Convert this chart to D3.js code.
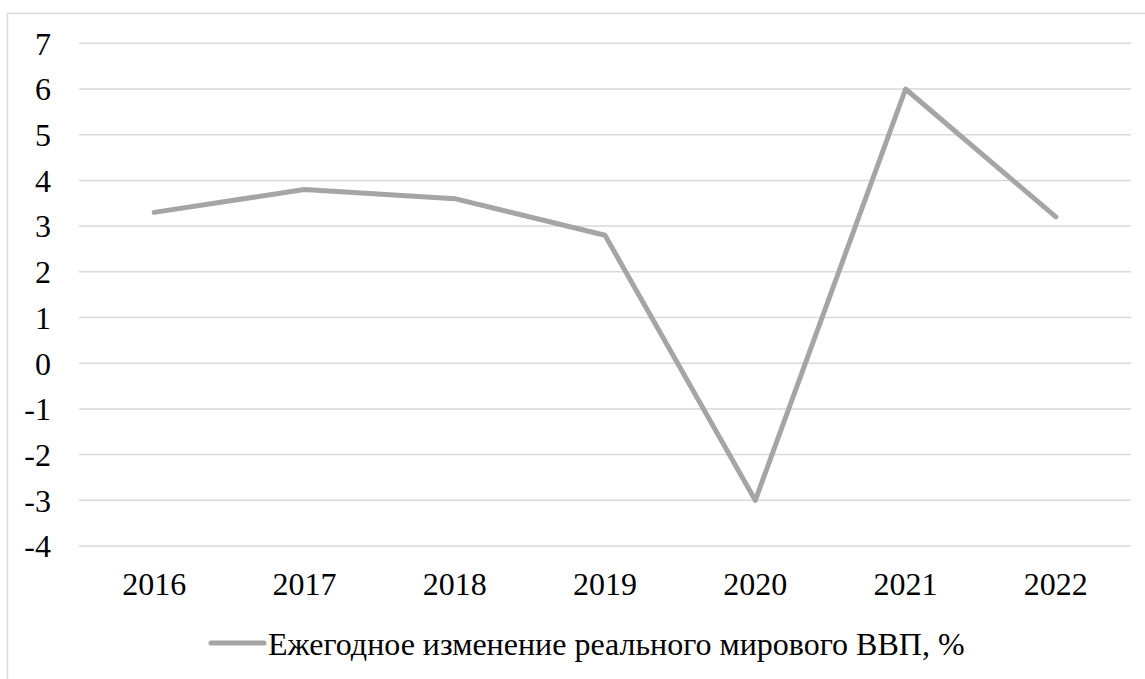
<!DOCTYPE html>
<html><head><meta charset="utf-8">
<script src="https://cdn.jsdelivr.net/npm/d3@7"></script>
<style>html,body{margin:0;padding:0;background:#fff;overflow:hidden}</style>
</head><body>
<svg id="c" width="1145" height="679"></svg>
<script>
const years = ["2016","2017","2018","2019","2020","2021","2022"];
const growth = [3.3, 3.8, 3.6, 2.8, -3.0, 6.0, 3.2];
const yTicks = [-4,-3,-2,-1,0,1,2,3,4,5,6,7];
const seriesName = "Ежегодное изменение реального мирового ВВП, %";

(function(){
const svg = d3.select("#c");
const font = '"Liberation Serif"';
const fs = "32px";
const pL = 79, pR = 1131, pT = 43.3, pB = 546;

svg.append("rect").attr("x",7.5).attr("y",13.5).attr("width",1150).attr("height",700)
  .attr("fill","#fff").attr("stroke","#d9d9d9").attr("stroke-width",1.5);

const x = d3.scaleBand().domain(years).range([pL,pR]);
const y = d3.scaleLinear().domain([-4,7]).range([pB,pT]);

svg.append("g").selectAll("line").data(yTicks).enter().append("line")
  .attr("x1",pL).attr("x2",pR)
  .attr("y1",d=>y(d)).attr("y2",d=>y(d))
  .attr("stroke","#d9d9d9").attr("stroke-width",1.5);

const yAxis = d3.axisLeft(y).tickValues(yTicks).tickSize(0).tickPadding(0).tickFormat(d3.format("d"));
const ya = svg.append("g").attr("transform","translate(51,0)").call(yAxis);
ya.select(".domain").remove();
ya.attr("font-family",null).attr("font-size",null);
ya.selectAll("text").style("font-family",font).style("font-size",fs).attr("fill","#000").attr("dy","0.34em")
  .text(d=>d<0? "-"+Math.abs(d) : d);

const xAxis = d3.axisBottom(x).tickSize(0).tickPadding(0);
const xa = svg.append("g").attr("transform","translate(0,573)").call(xAxis);
xa.select(".domain").remove();
xa.attr("font-family",null).attr("font-size",null);
xa.selectAll("text").style("font-family",font).style("font-size",fs).attr("fill","#000").attr("dy","0.69em");

const line = d3.line().x((d,i)=>x(years[i])+x.bandwidth()/2).y(d=>y(d));
svg.append("path").datum(growth).attr("d",line).attr("fill","none")
  .attr("stroke","#a5a5a5").attr("stroke-width",5).attr("stroke-linejoin","round").attr("stroke-linecap","round");

svg.append("line").attr("x1",211).attr("x2",264).attr("y1",643).attr("y2",643)
  .attr("stroke","#a5a5a5").attr("stroke-width",5).attr("stroke-linecap","round");
svg.append("text").attr("x",268).attr("y",655).style("font-family",font).style("font-size",fs).attr("fill","#000")
  .text(seriesName);
})();
</script>
</body></html>
